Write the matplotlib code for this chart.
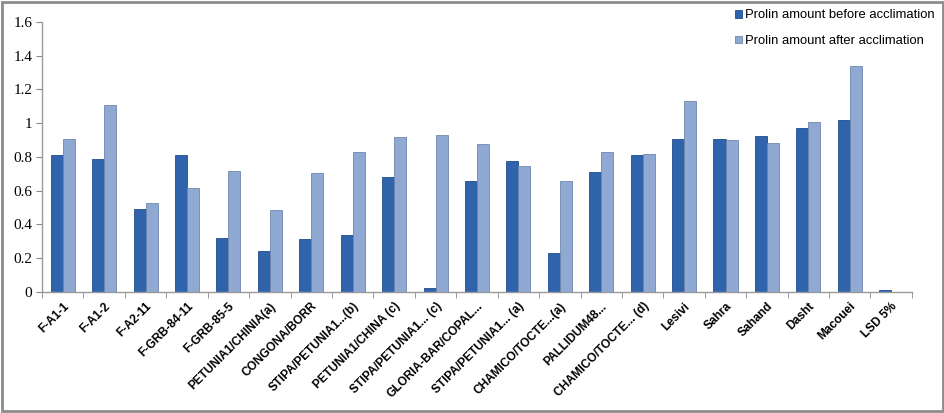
import numpy as np
import matplotlib
matplotlib.use("Agg")
import matplotlib.pyplot as plt
from matplotlib.patches import Rectangle

# Data
categories = ["F-A1-1", "F-A1-2", "F-A2-11", "F-GRB-84-11", "F-GRB-85-5",
              "PETUNIA1/CHINIA(a)", "CONGONA/BORR", "STIPA/PETUNIA1...(b)",
              "PETUNIA1/CHINA (c)", "STIPA/PETUNIA1... (c)", "GLORIA-BAR/COPAL...",
              "STIPA/PETUNIA1... (a)", "CHAMICO/TOCTE...(a)", "PALLIDUM48...",
              "CHAMICO/TOCTE... (d)", "Lesivi", "Sahra", "Sahand", "Dasht",
              "Macouei", "LSD 5%"]
before = [0.81, 0.79, 0.494, 0.81, 0.32, 0.24, 0.316, 0.34, 0.68, 0.024, 0.66,
          0.778, 0.231, 0.709, 0.81, 0.909, 0.909, 0.923, 0.972, 1.017, 0.012]
after = [0.908, 1.11, 0.527, 0.616, 0.715, 0.484, 0.707, 0.83, 0.916, 0.928, 0.877,
         0.748, 0.66, 0.828, 0.816, 1.13, 0.90, 0.88, 1.007, 1.34, np.nan]
yticks = [0, 0.2, 0.4, 0.6, 0.8, 1, 1.2, 1.4, 1.6]
ylabels = ["0", "0.2", "0.4", "0.6", "0.8", "1", "1.2", "1.4", "1.6"]

fig = plt.figure(figsize=(9.45, 4.13), dpi=100)
ax = fig.add_axes([0.0444, 0.293, 0.9206, 0.6538])

x = np.arange(len(categories))
w = 0.29
ax.bar(x - w / 2, before, w, color="#2f64ad", edgecolor="#1f4c8a", linewidth=0.6,
       label="Prolin amount before acclimation")
ax.bar(x + w / 2, after, w, color="#90a9d3", edgecolor="#6f86ad", linewidth=0.6,
       label="Prolin amount after acclimation")

ax.set_xlim(-0.5, len(categories) - 0.5)
ax.set_ylim(0, 1.6)
ax.set_yticks(yticks)
ax.set_yticklabels(ylabels, fontsize=11, family="Liberation Serif")
ax.set_xticks(x)
ax.set_xticklabels(categories, rotation=45, ha="right", va="top",
                   rotation_mode="anchor", fontsize=8.6, fontweight="bold",
                   family="Liberation Sans")
ax.set_xticks(np.arange(len(categories) + 1) - 0.5, minor=True)
ax.tick_params(axis="x", which="major", length=0, pad=6)
ax.tick_params(axis="x", which="minor", length=4, color="#888888", direction="out")
ax.tick_params(axis="y", length=4, color="#888888", direction="out", pad=3)

for side in ["top", "right"]:
    ax.spines[side].set_visible(False)
for side in ["left", "bottom"]:
    ax.spines[side].set_color("#9a9a9a")
    ax.spines[side].set_linewidth(1.0)

leg = ax.legend(loc="upper left", bbox_to_anchor=(0.783, 1.09), frameon=False,
                prop={"family": "Liberation Sans", "size": 9.4},
                handlelength=0.55, handleheight=0.55, handletextpad=0.25,
                labelspacing=1.05)

fig.patches.append(Rectangle((0.002, 0.004), 0.996, 0.992, transform=fig.transFigure,
                             fill=False, edgecolor="#8c8c8c", linewidth=2))

fig.savefig("out.png", dpi=100)
